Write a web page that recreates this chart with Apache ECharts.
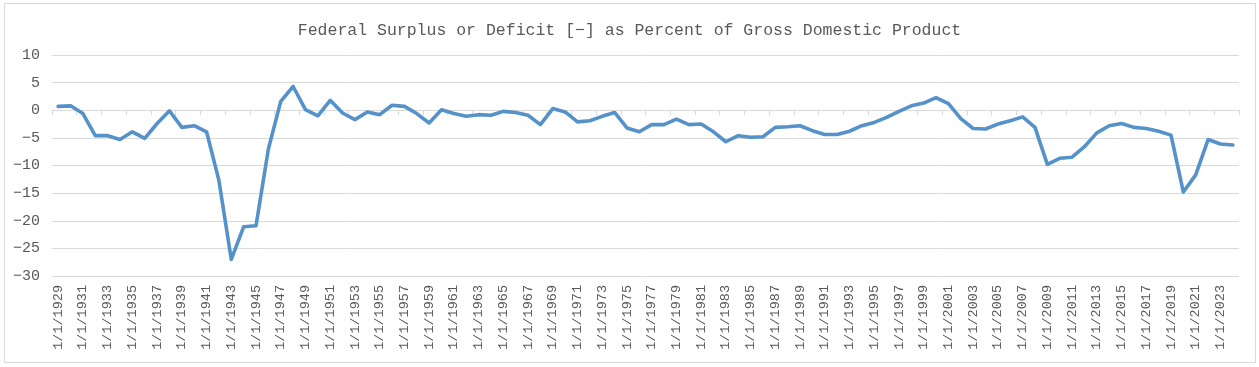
<!DOCTYPE html>
<html>
<head>
<meta charset="utf-8">
<script src="https://cdn.jsdelivr.net/npm/echarts@6/dist/echarts.min.js"></script>
<style>
html,body{margin:0;padding:0;background:#fff;}
#frame{position:absolute;left:4px;top:3px;width:1252px;height:360px;border:1px solid #d9d9d9;box-sizing:border-box;}
#c{position:absolute;left:0;top:0;width:1259px;height:367px;}
</style>
</head>
<body>
<div id="frame"></div>
<div id="c"></div>
<script>
const years = [];
for (let y = 1929; y <= 2024; y++) years.push(y);
const categories = years.map(y => '1/1/' + y);
const surplusDeficit = [
  0.7, 0.8, -0.6, -4.6, -4.6, -5.3, -3.9, -5.1, -2.4, -0.1,
  -3.1, -2.8, -3.9, -12.7, -27.0, -21.1, -20.9, -7.0, 1.6, 4.3,
  0.1, -1.0, 1.8, -0.5, -1.7, -0.3, -0.8, 0.9, 0.7, -0.6,
  -2.3, 0.1, -0.6, -1.1, -0.8, -0.9, -0.2, -0.4, -0.9, -2.6,
  0.3, -0.3, -2.1, -1.9, -1.1, -0.4, -3.2, -3.9, -2.6, -2.6,
  -1.6, -2.6, -2.5, -3.9, -5.7, -4.6, -4.9, -4.8, -3.1, -3.0,
  -2.8, -3.7, -4.4, -4.4, -3.8, -2.8, -2.2, -1.3, -0.2, 0.8,
  1.3, 2.3, 1.2, -1.5, -3.3, -3.4, -2.5, -1.9, -1.2, -3.1,
  -9.8, -8.7, -8.5, -6.6, -4.1, -2.8, -2.4, -3.1, -3.3, -3.8,
  -4.5, -14.8, -11.7, -5.3, -6.1, -6.3
];
const yTicks = {min: -30, max: 10, interval: 5};
const titleText = 'Federal Surplus or Deficit [\u2212] as Percent of Gross Domestic Product';

const chart = echarts.init(document.getElementById('c'), null, {renderer: 'canvas'});
const font = '"Liberation Mono", "DejaVu Sans Mono", monospace';
chart.setOption({
  animation: false,
  backgroundColor: 'transparent',
  title: {
    text: titleText,
    left: 'center',
    top: 17,
    textStyle: {fontFamily: font, fontSize: 16.5, fontWeight: 'normal', color: '#595959'}
  },
  grid: {left: 52, right: 20, top: 55, bottom: 91, containLabel: false},
  xAxis: [
    {
      type: 'category',
      data: categories,
      boundaryGap: true,
      position: 'bottom',
      axisLine: {show: false, onZero: false},
      axisTick: {show: false},
      splitLine: {show: false},
      axisLabel: {
        interval: 1,
        rotate: 90,
        margin: 9,
        fontFamily: font,
        fontSize: 13.5,
        color: '#595959'
      }
    },
    {
      type: 'category',
      data: categories,
      boundaryGap: true,
      position: 'bottom',
      axisLine: {show: true, onZero: true, lineStyle: {color: '#d9d9d9', width: 1}},
      axisTick: {show: true, interval: 1, length: 5, lineStyle: {color: '#d9d9d9'}},
      axisLabel: {show: false},
      splitLine: {show: false}
    }
  ],
  yAxis: {
    type: 'value',
    min: yTicks.min,
    max: yTicks.max,
    interval: yTicks.interval,
    axisLine: {show: false},
    axisTick: {show: false},
    axisLabel: {
      margin: 12,
      fontFamily: font,
      fontSize: 15,
      color: '#595959',
      formatter: v => (v < 0 ? '\u2212' + Math.abs(v) : String(v))
    },
    splitLine: {lineStyle: {color: '#d9d9d9', width: 1}}
  },
  series: [{
    type: 'line',
    xAxisIndex: 0,
    data: surplusDeficit,
    showSymbol: false,
    symbol: 'none',
    lineStyle: {color: '#5592c9', width: 3.6, join: 'round', cap: 'round'},
    itemStyle: {color: '#5592c9'},
    z: 5
  }]
});
</script>
</body>
</html>
